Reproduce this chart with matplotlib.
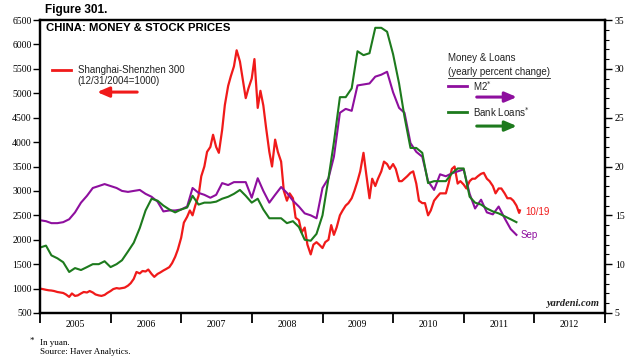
import numpy as np
import pandas as pd
import matplotlib
matplotlib.use("Agg")
import matplotlib.pyplot as plt
import matplotlib.dates as mdates
from matplotlib.lines import Line2D
from matplotlib.ticker import MultipleLocator, NullFormatter

# yearly percent change, month-end values Dec 2004 .. Sep 2011
m2 = [14.5, 14.4, 14.2, 14.2, 14.3, 14.6, 15.3, 16.3, 17.0, 17.8, 18.0, 18.2,
      18.0, 17.8, 17.5, 17.4, 17.5, 17.6, 17.2, 16.9, 16.4, 15.4, 15.5, 15.5,
      15.6, 15.9, 17.8, 17.3, 17.1, 16.8, 17.1, 18.3, 18.1, 18.4, 18.4, 18.4,
      16.8, 18.8, 17.5, 16.3, 17.1, 17.9, 17.3, 16.5, 15.9, 15.2, 15.0, 14.7,
      17.8, 18.8, 21.0, 25.5, 25.9, 25.7, 28.3, 28.4, 28.5, 29.2, 29.4, 29.7,
      27.6, 26.0, 25.5, 22.4, 21.5, 21.0, 18.5, 17.6, 19.2, 19.0, 19.3, 19.5,
      19.7, 17.2, 15.7, 16.6, 15.3, 15.1, 15.9, 14.7, 13.6, 13.0]
loans = [11.7, 11.9, 10.9, 10.6, 10.2, 9.2, 9.6, 9.4, 9.7, 10.0, 10.0, 10.3,
         9.7, 10.0, 10.4, 11.3, 12.2, 13.7, 15.5, 16.7, 16.5, 16.0, 15.6, 15.3,
         15.6, 15.8, 17.0, 16.1, 16.3, 16.3, 16.4, 16.7, 16.9, 17.2, 17.6, 17.0,
         16.3, 16.7, 15.6, 14.7, 14.7, 14.7, 14.2, 14.4, 13.8, 12.5, 12.4, 13.1,
         15.0, 18.8, 22.5, 27.1, 27.1, 28.0, 31.8, 31.4, 31.6, 34.2, 34.2, 33.8,
         31.5, 28.5, 25.1, 21.9, 21.9, 21.4, 18.3, 18.5, 18.5, 18.5, 19.3, 19.8,
         19.8, 16.9, 16.3, 16.1, 15.7, 15.4, 15.2, 14.9, 14.6, 14.3]

# Shanghai-Shenzhen 300 (12/31/2004=1000), 1st and 15th of each month, then 10/19/2011
csi300 = [1000, 990, 975, 965, 960, 950, 930, 920, 910, 880, 830, 900,
          850, 860, 900, 930, 920, 950, 920, 880, 860, 850, 870, 910,
          950, 990, 1010, 1000, 1010, 1020, 1060, 1110, 1200, 1340, 1310, 1360,
          1350, 1390, 1300, 1240, 1300, 1330, 1370, 1400, 1440, 1520, 1650, 1800,
          2040, 2350, 2470, 2600, 2500, 2700, 2900, 3300, 3500, 3800, 3900, 4150,
          3900, 3780, 4250, 4760, 5150, 5350, 5550, 5880, 5650, 5300, 4900, 5100,
          5300, 5700, 4700, 5050, 4750, 4300, 3800, 3500, 4050, 3800, 3600, 3000,
          2800, 2950, 2850, 2450, 2400, 2150, 2250, 1900, 1700, 1900, 1950, 1900,
          1830, 1950, 2000, 2300, 2100, 2250, 2500, 2600, 2700, 2750, 2850, 3000,
          3200, 3400, 3780, 3350, 2850, 3250, 3100, 3250, 3400, 3600, 3550, 3450,
          3550, 3450, 3200, 3200, 3250, 3300, 3370, 3400, 3150, 2800, 2750, 2750,
          2500, 2600, 2800, 2870, 2950, 2950, 2950, 3150, 3450, 3500, 3150, 3200,
          3130, 3050, 3200, 3250, 3250, 3300, 3350, 3370, 3250, 3200, 3100, 2950,
          3050, 3050, 2950, 2850, 2850, 2800, 2700, 2550, 2600]

months = pd.date_range("2005-01-01", periods=len(m2), freq="MS")  # month ends
stock_dates = list(pd.date_range("2005-01-01", "2011-10-15", freq="SMS")) + [pd.Timestamp("2011-10-19")]

RED = "#f01a1a"
PURPLE = "#8e0f9e"
GREEN = "#1d7a1d"
SANS = "Liberation Sans"
SERIF = "Liberation Serif"

plt.rcParams["font.family"] = SERIF

fig = plt.figure(figsize=(6.4, 3.63), dpi=100)
ax = fig.add_axes([40 / 640, 1 - 313 / 363, 565 / 640, 293 / 363])
ax2 = ax.twinx()

ax.plot(stock_dates, csi300, color=RED, lw=1.6)
ax2.plot(months, m2, color=PURPLE, lw=1.5)
ax2.plot(months, loans, color=GREEN, lw=1.5)

ax.set_xlim(pd.Timestamp("2005-01-01"), pd.Timestamp("2013-01-01"))
ax.set_ylim(500, 6500)
ax2.set_ylim(5, 35)
ax.set_yticks(range(500, 6501, 500))
ax2.set_yticks(range(5, 36, 5))
ax2.yaxis.set_minor_locator(MultipleLocator(1))

ax.xaxis.set_major_locator(mdates.YearLocator())
ax.xaxis.set_major_formatter(NullFormatter())
ax.xaxis.set_minor_locator(mdates.MonthLocator(bymonth=7, bymonthday=2))
ax.xaxis.set_minor_formatter(mdates.DateFormatter("%Y"))
ax.tick_params(axis="x", which="major", length=7, width=1.3, direction="out")
ax.tick_params(axis="x", which="minor", length=0, pad=5, labelsize=7)
ax.tick_params(axis="y", length=5, width=1, pad=1, labelsize=7)
ax2.tick_params(axis="y", which="major", length=5, width=1, pad=2, labelsize=7)
ax2.tick_params(axis="y", which="minor", length=3, width=0.8)

for a in (ax, ax2):
    for s in a.spines.values():
        s.set_linewidth(1.6)
        s.set_color("black")

# titles
fig.text(45 / 640, 1 - 10 / 363, "Figure 301.", family=SANS, weight="bold",
         fontsize=8.5, va="center", ha="left")
ax.text(0.011, 0.973, "CHINA: MONEY & STOCK PRICES", transform=ax.transAxes,
        family=SANS, weight="bold", fontsize=8.2, va="center", ha="left")

# left legend
ax.add_artist(Line2D([0.021, 0.055], [0.829, 0.829], transform=ax.transAxes,
                     color=RED, lw=2))
ax.text(0.067, 0.829, "Shanghai-Shenzhen 300", transform=ax.transAxes,
        family=SANS, fontsize=7, va="center", color="#222222")
ax.text(0.067, 0.792, "(12/31/2004=1000)", transform=ax.transAxes,
        family=SANS, fontsize=7, va="center", color="#222222")
arrow_style = "-|>,head_length=0.7,head_width=0.3"
ax.annotate("", xy=(0.101, 0.754), xytext=(0.172, 0.754), xycoords="axes fraction",
            arrowprops=dict(arrowstyle=arrow_style, color=RED, lw=2.2,
                            mutation_scale=10, shrinkA=0, shrinkB=0))

# right legend
ax.text(0.722, 0.870, "Money & Loans", transform=ax.transAxes,
        family=SANS, fontsize=7, va="center", color="#222222")
sub = ax.text(0.722, 0.823, "(yearly percent change)", transform=ax.transAxes,
              family=SANS, fontsize=7, va="center", color="#222222")
ax.add_artist(Line2D([0.722, 0.756], [0.775, 0.775], transform=ax.transAxes,
                     color=PURPLE, lw=2))
ax.text(0.766, 0.775, "M2$^{*}$", transform=ax.transAxes,
        family=SANS, fontsize=7, va="center", color="#222222")
ax.annotate("", xy=(0.844, 0.737), xytext=(0.773, 0.737), xycoords="axes fraction",
            arrowprops=dict(arrowstyle=arrow_style, color=PURPLE, lw=2.2,
                            mutation_scale=10, shrinkA=0, shrinkB=0))
ax.add_artist(Line2D([0.722, 0.756], [0.686, 0.686], transform=ax.transAxes,
                     color=GREEN, lw=2))
ax.text(0.766, 0.686, "Bank Loans$^{*}$", transform=ax.transAxes,
        family=SANS, fontsize=7, va="center", color="#222222")
ax.annotate("", xy=(0.844, 0.638), xytext=(0.773, 0.638), xycoords="axes fraction",
            arrowprops=dict(arrowstyle=arrow_style, color=GREEN, lw=2.2,
                            mutation_scale=10, shrinkA=0, shrinkB=0))

# end labels
ax.annotate("10/19", xy=(stock_dates[-1], csi300[-1]), xytext=(4, -1),
            textcoords="offset points", family=SANS, fontsize=7, color=RED,
            va="center", ha="left")
ax2.annotate("Sep", xy=(months[-1], m2[-1]), xytext=(3, 0),
             textcoords="offset points", family=SANS, fontsize=7, color=PURPLE,
             va="center", ha="left")

ax.text(0.99, 0.018, "yardeni.com", transform=ax.transAxes, style="italic",
        weight="bold", fontsize=7.5, ha="right", va="bottom", color="#222222")

# footnote
fig.text(30 / 640, 1 - 341 / 363, "*", fontsize=6.5, va="center", ha="left")
fig.text(40 / 640, 1 - 343 / 363, "In yuan.", fontsize=6.5, va="center", ha="left")
fig.text(40 / 640, 1 - 352 / 363, "Source: Haver Analytics.", fontsize=6.5,
         va="center", ha="left")

# underline the subtitle
fig.canvas.draw()
bb = sub.get_window_extent().transformed(fig.transFigure.inverted())
fig.add_artist(Line2D([bb.x0, bb.x1], [bb.y0 - 0.002, bb.y0 - 0.002],
                      transform=fig.transFigure, color="#222222", lw=0.6))

fig.savefig("out.png", dpi=100)
